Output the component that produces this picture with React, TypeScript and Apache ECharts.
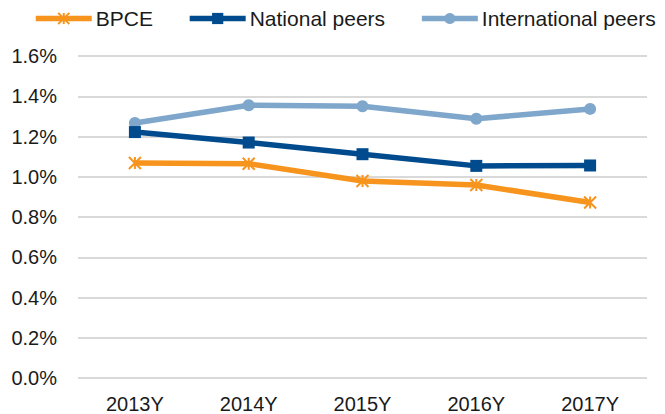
import React, { useEffect, useRef } from "react";
import * as echarts from "echarts";

const categories = ["2013Y", "2014Y", "2015Y", "2016Y", "2017Y"];
const bpce = [1.068, 1.065, 0.979, 0.959, 0.872];
const nationalPeers = [1.222, 1.17, 1.112, 1.054, 1.056];
const internationalPeers = [1.267, 1.355, 1.35, 1.288, 1.337];
const yTicks = { min: 0, max: 1.6, interval: 0.2 };

const ORANGE = "#F7941D";
const DARK = "#004B8D";
const LIGHT = "#7FA6CB";
const FONT = "'Liberation Sans', Arial, sans-serif";

export default function App() {
  const ref = useRef<HTMLDivElement>(null);
  useEffect(() => {
    if (!ref.current) return;
    const chart = echarts.init(ref.current, undefined, { renderer: "svg" });
    chart.setOption({
      animation: false,
      textStyle: { fontFamily: FONT },
      legend: {
        top: 8,
        left: 33,
        padding: 0,
        itemWidth: 56,
        itemHeight: 14,
        itemGap: 34,
        lineStyle: { width: 5.5 },
        textStyle: { fontSize: 21, color: "#1a1a1a", fontFamily: FONT, padding: [0, 0, 0, -1] },
        data: ["BPCE", "National peers", "International peers"],
      },
      grid: { left: 78, right: 18, top: 56, bottom: 36 },
      xAxis: {
        type: "category",
        data: categories,
        boundaryGap: true,
        axisLine: { show: false },
        axisTick: { show: false },
        axisLabel: { fontSize: 20, color: "#1a1a1a", margin: 16, fontFamily: FONT },
      },
      yAxis: {
        type: "value",
        min: yTicks.min,
        max: yTicks.max,
        interval: yTicks.interval,
        axisLine: { show: false },
        axisTick: { show: false },
        axisLabel: {
          fontSize: 20,
          color: "#1a1a1a",
          margin: 21,
          fontFamily: FONT,
          formatter: (v: number) => v.toFixed(1) + "%",
        },
        splitLine: { lineStyle: { color: "#D9D9D9", width: 2 } },
      },
      series: [
        {
          name: "BPCE",
          type: "line",
          data: bpce,
          symbol: "path://M0,0 L10,10 M10,0 L0,10 M5,0 L5,10",
          symbolSize: 12,
          lineStyle: { color: ORANGE, width: 5.5 },
          itemStyle: { color: ORANGE, borderColor: ORANGE, borderWidth: 2 },
          z: 3,
        },
        {
          name: "National peers",
          type: "line",
          data: nationalPeers,
          symbol: "rect",
          symbolSize: 12,
          lineStyle: { color: DARK, width: 5.5 },
          itemStyle: { color: DARK },
          z: 4,
        },
        {
          name: "International peers",
          type: "line",
          data: internationalPeers,
          symbol: "circle",
          symbolSize: 12,
          lineStyle: { color: LIGHT, width: 5.5 },
          itemStyle: { color: LIGHT },
          z: 2,
        },
      ],
    });
    return () => chart.dispose();
  }, []);
  return <div ref={ref} style={{ width: 665, height: 414, position: "absolute", left: 0, top: 0 }} />;
}
